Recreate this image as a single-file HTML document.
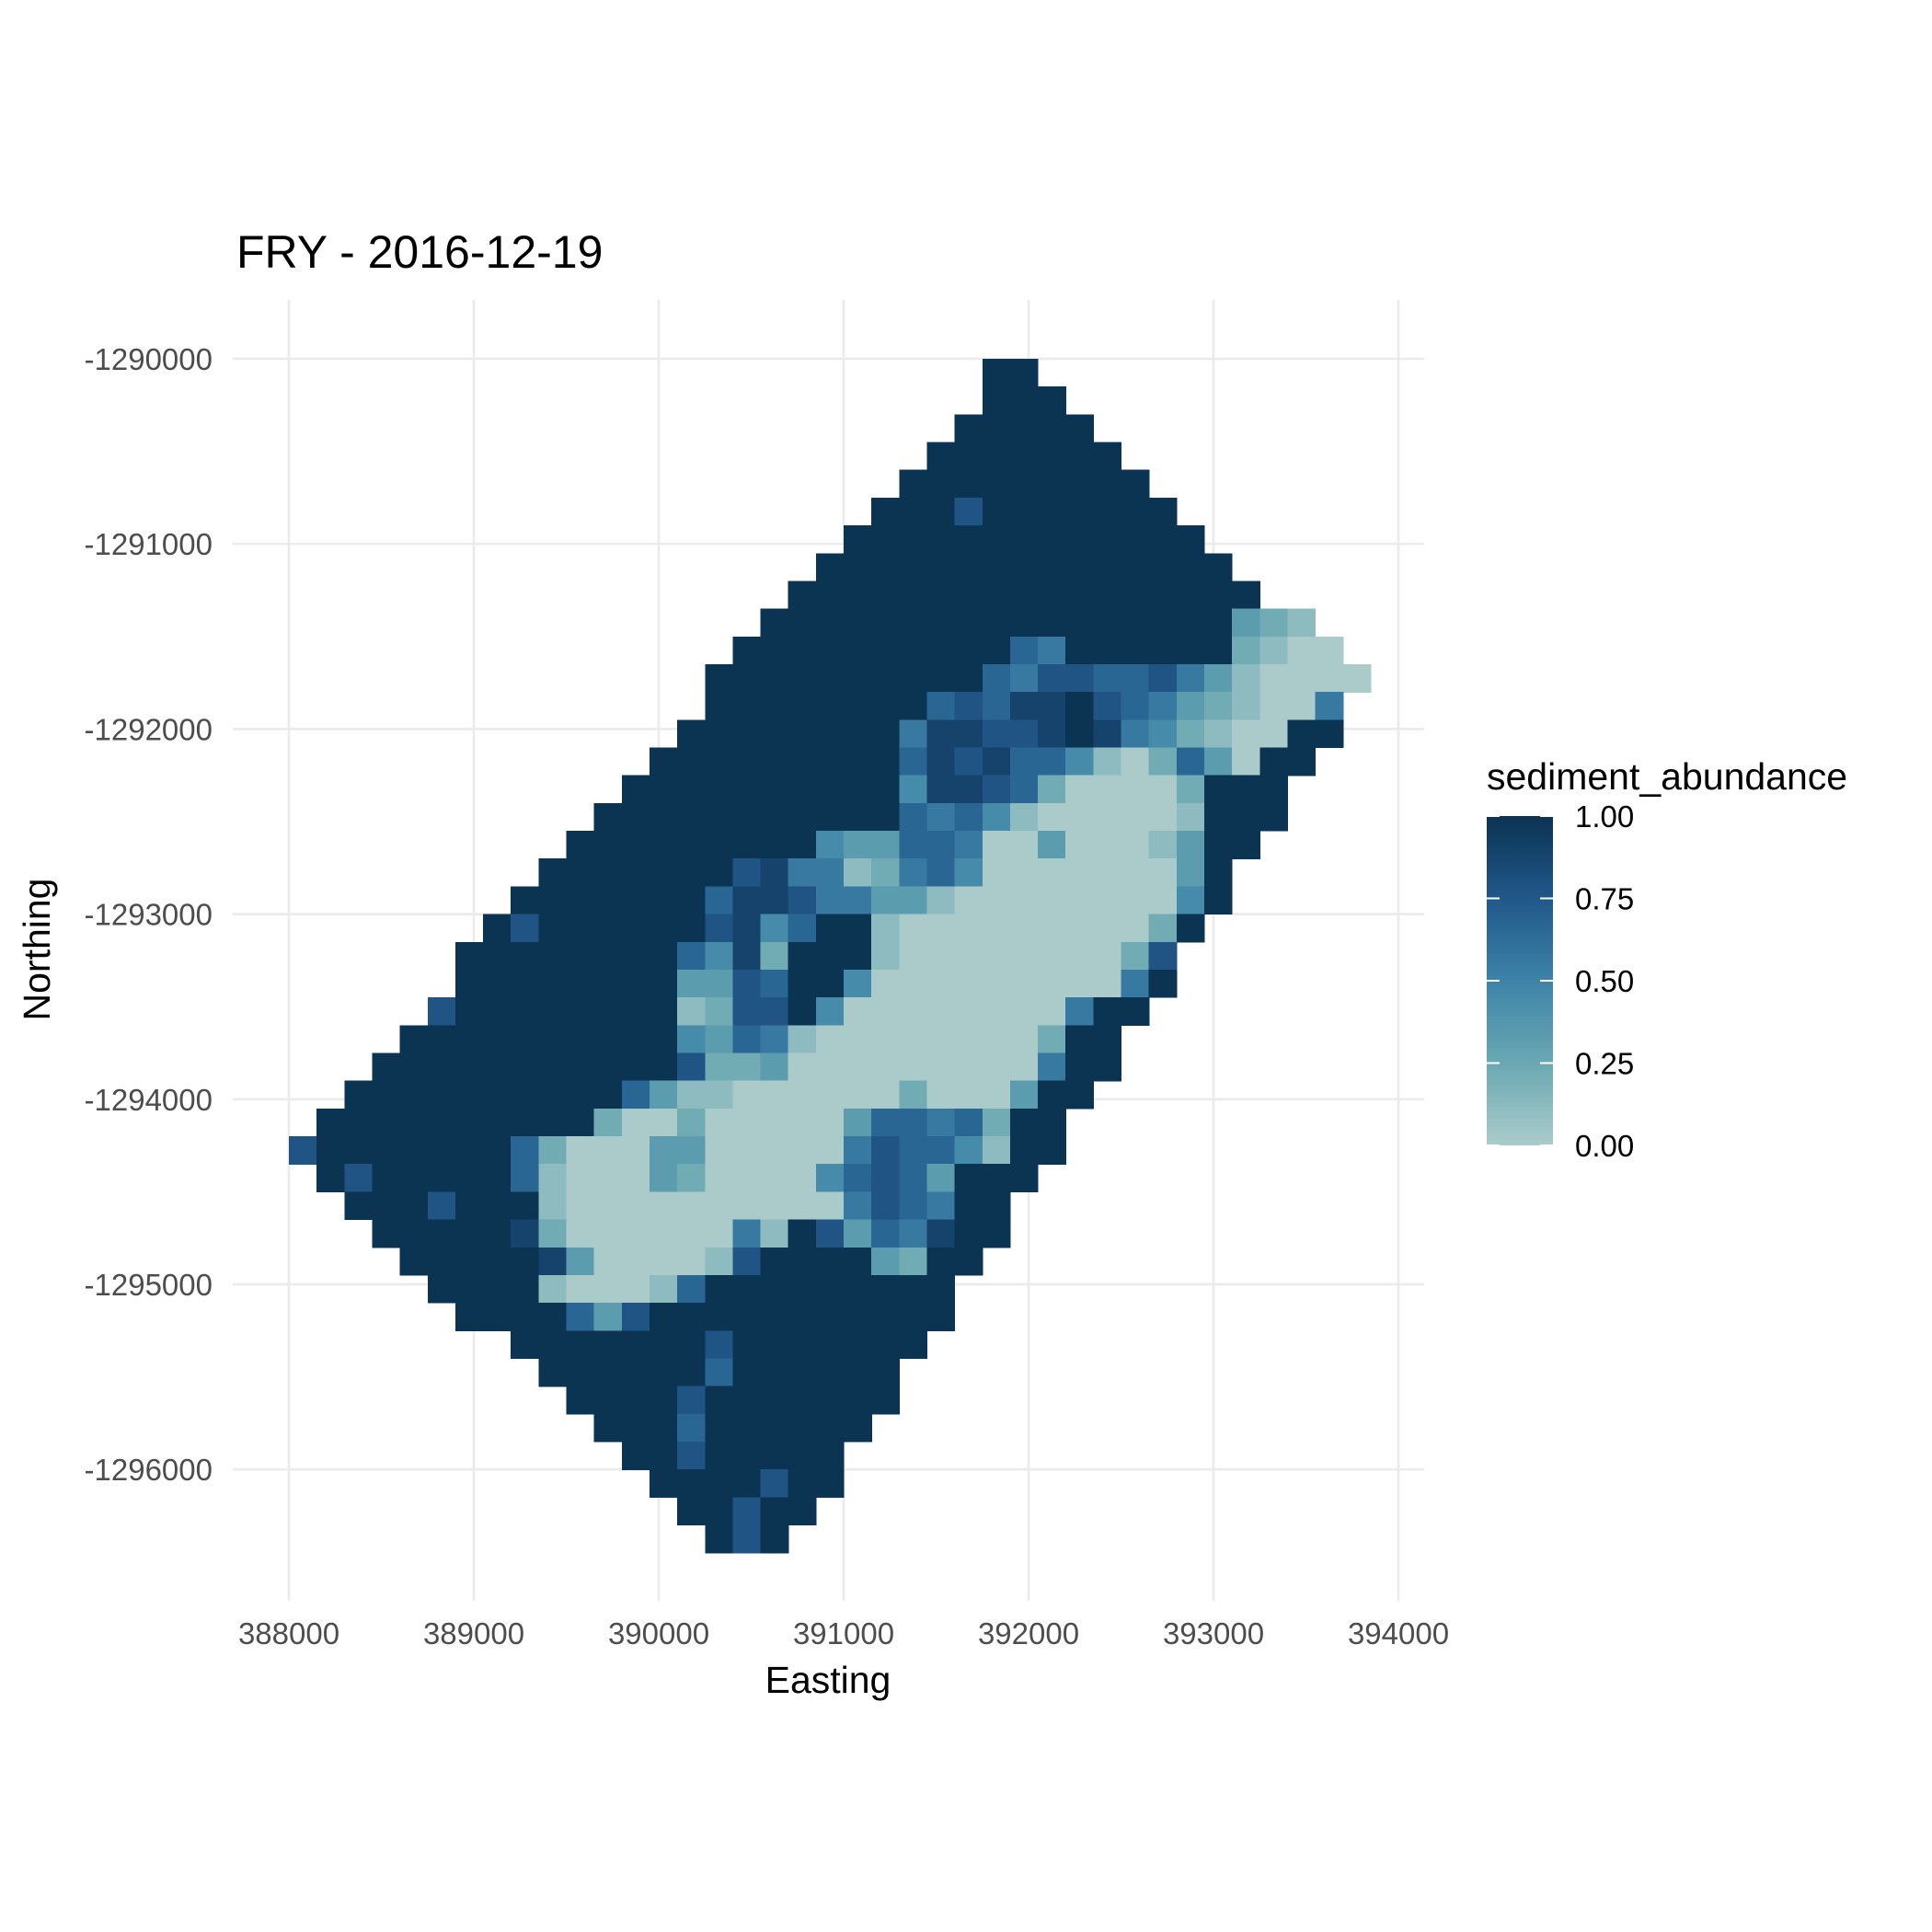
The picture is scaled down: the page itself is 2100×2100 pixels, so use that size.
<!DOCTYPE html>
<html><head><meta charset="utf-8"><style>
html,body{margin:0;padding:0;background:#fff;}
svg{display:block;font-family:"Liberation Sans",Arial,sans-serif;}
</style></head><body>
<svg id="chart" width="2100" height="2100" viewBox="0 0 2100 2100">
<defs>
<linearGradient id="cbar" x1="0" y1="1" x2="0" y2="0">
<stop offset="0" stop-color="#abcbcb"/><stop offset="0.25" stop-color="#6aa8b2"/><stop offset="0.5" stop-color="#3d83a8"/><stop offset="0.75" stop-color="#21588a"/><stop offset="1" stop-color="#0b3352"/>
</linearGradient>
</defs>
<text x="257" y="291" font-size="50" fill="#000">FRY - 2016-12-19</text>
<g id="grid"></g>
<g id="cells" shape-rendering="crispEdges"></g>
<g id="xticks"></g>
<g id="yticks"></g>
<text x="900" y="1840" font-size="41" text-anchor="middle" fill="#000">Easting</text>
<text x="0" y="0" font-size="41" text-anchor="middle" fill="#000" transform="translate(54,1032) rotate(-90)">Northing</text>
<g>
<text x="1616" y="858" font-size="41" fill="#000">sediment_abundance</text>
<rect x="1616" y="887" width="72" height="358" fill="url(#cbar)"/>
<g id="legendticks"></g>
</g>
</svg>
<script>
const xTicks=[388000,389000,390000,391000,392000,393000,394000];
const yTicks=[-1290000,-1291000,-1292000,-1293000,-1294000,-1295000,-1296000];
const legendValues=[0,0.25,0.5,0.75,1];
const legendLabels=["0.00","0.25","0.50","0.75","1.00"];
const cellSize=150;
const originE=388000;
const originN=-1290000;
const rowStart=[25,25,24,23,22,21,20,19,18,17,16,15,15,14,13,12,11,10,9,8,7,6,6,5,4,3,2,1,0,1,2,3,4,5,6,8,9,10,11,12,13,14,15];
const rowValues=[
"99","999","99999","9999999","999999999","99979999999","9999999999999","999999999999999","99999999999999999",
"99999999999999999321",
"9999999999659999992100",
"999999999965776675310000",
"99999999676889765321005",
"999999995887789854210099",
"999999999687866410263099",
"999999999948876200002999",
"9999999999965641000001999",
"9999999994336650030001399",
"9999999785512564000000039",
"99999996887553310000000049",
"97999999784699100000000029",
"99999999648299910000000027",
"99999999337699400000000059",
"79999999912779400000000599",
"99999999994365100000000299",
"999999999997223000000000599",
"999999999963110000002000399",
"999999999920020000036656299",
"7999999962000330000057664199",
"97999996100032000046763999",
"999799910000000000576599",
"99999820000005197365899",
"999998300001799993299",
"9999100016999999999",
"999963799999999999",
"999999979999999",
"9999996999999",
"999979999999",
"9996999999",
"99799999",
"9999799",
"99799",
"979"];
function X(e){return 314+(e-388000)*0.201;}
function Y(n){return 390+(-1290000-n)*0.2012;}
const stops=[[0,[171,203,203]],[0.25,[106,168,178]],[0.5,[61,131,168]],[0.75,[33,88,138]],[1,[11,51,82]]];
function color(v){for(let i=1;i<stops.length;i++){if(v<=stops[i][0]){const a=stops[i-1],b=stops[i];const t=(v-a[0])/(b[0]-a[0]);const c=a[1].map((q,k)=>Math.round(q+(b[1][k]-q)*t));return 'rgb('+c.join(',')+')';}}return 'rgb(11,51,82)';}
const NS='http://www.w3.org/2000/svg';
function mk(tag,attrs,parent){const el=document.createElementNS(NS,tag);for(const k in attrs)el.setAttribute(k,attrs[k]);parent.appendChild(el);return el;}
const grid=document.getElementById('grid');
xTicks.forEach(t=>{const l=mk('line',{x1:X(t),x2:X(t),y1:326,y2:1740,stroke:'#ebebeb','stroke-width':2.7},grid);

});
yTicks.forEach(t=>{const l=mk('line',{x1:253,x2:1548,y1:Y(t),y2:Y(t),stroke:'#ebebeb','stroke-width':2.7},grid);

});
const cells=document.getElementById('cells');
rowValues.forEach((row,r)=>{for(let i=0;i<row.length;i++){const v=parseInt(row[i],10)/9;const c=rowStart[r]+i;
const e0=originE+cellSize*c,e1=e0+cellSize,n0=originN-cellSize*r,n1=n0-cellSize;
const rc=mk('rect',{x:X(e0).toFixed(2),y:Y(n0).toFixed(2),width:(X(e1)-X(e0)+0.6).toFixed(2),height:(Y(n1)-Y(n0)+0.6).toFixed(2),fill:color(v)},cells);

}});
const xt=document.getElementById('xticks');
xTicks.forEach(t=>{const tx=mk('text',{x:X(t),y:1787,'font-size':33,'text-anchor':'middle',fill:'#4d4d4d'},xt);tx.textContent=String(t);

});
const yt=document.getElementById('yticks');
yTicks.forEach(t=>{const tx=mk('text',{x:231,y:Y(t)+12,'font-size':33,'text-anchor':'end',fill:'#4d4d4d'},yt);tx.textContent=String(t);

});
const lt=document.getElementById('legendticks');
function LY(v){return 1245-v*358;}
legendValues.forEach((v,i)=>{const y=LY(v);
const a=mk('line',{x1:1616,x2:1630,y1:y,y2:y,stroke:'#fff','stroke-width':2},lt);


const b=mk('line',{x1:1674,x2:1688,y1:y,y2:y,stroke:'#fff','stroke-width':2},lt);


const tx=mk('text',{x:1712,y:y+12,'font-size':33,fill:'#000'},lt);tx.textContent=legendLabels[i];

});
</script>
</body></html>
